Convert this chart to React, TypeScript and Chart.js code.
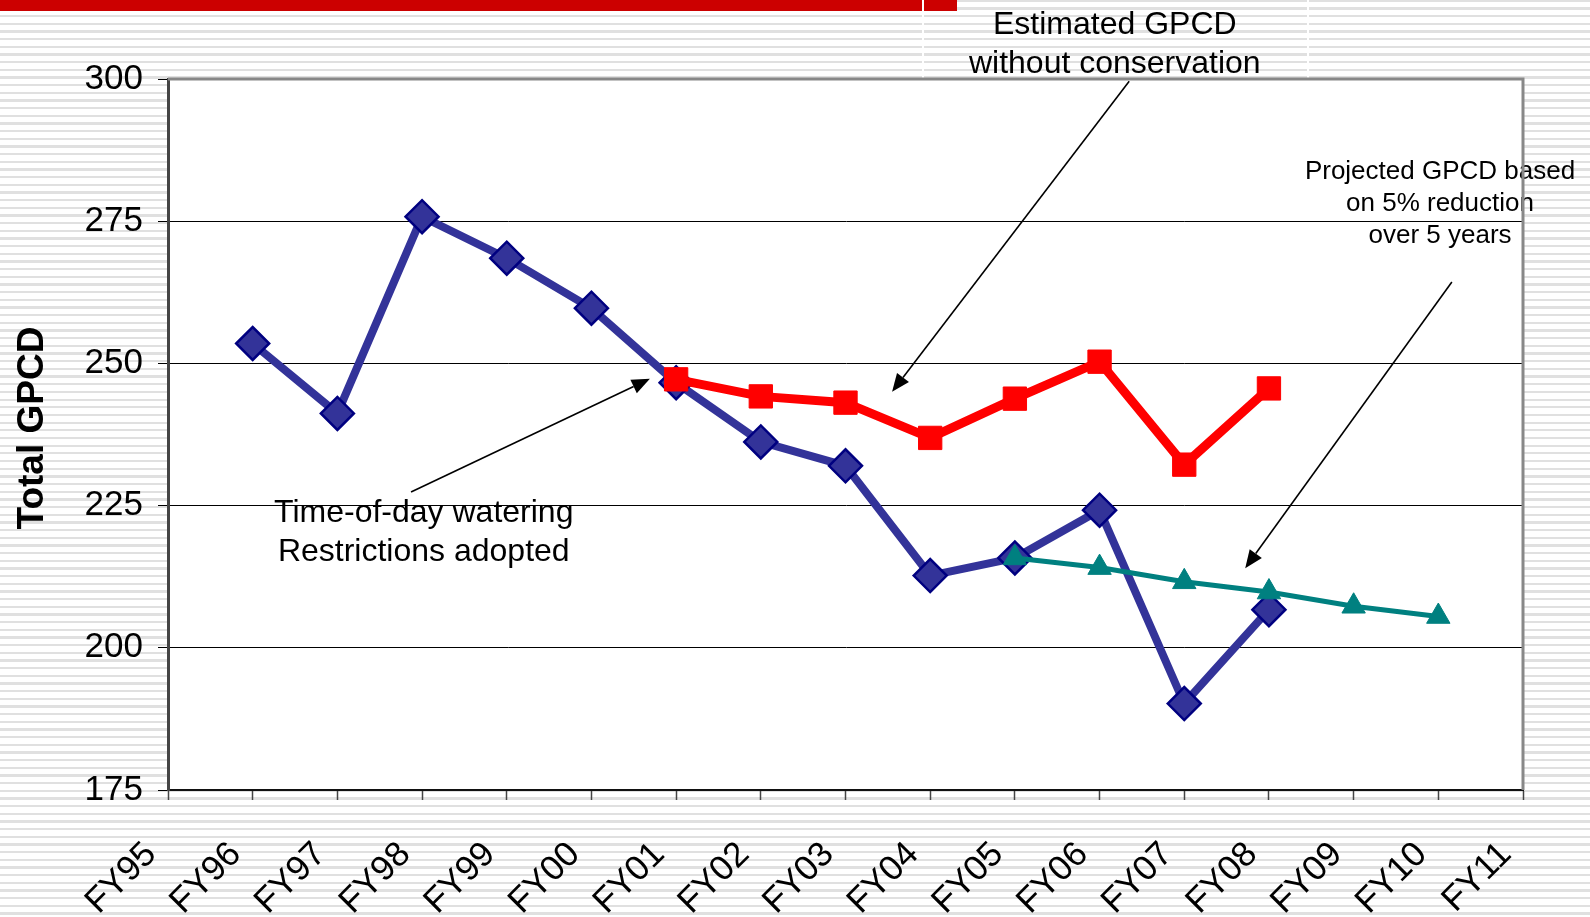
import React, { useEffect, useRef } from 'react';
import { Chart, registerables } from 'chart.js';

Chart.register(...registerables);

// ---- data ----
const categories = ['FY95', 'FY96', 'FY97', 'FY98', 'FY99', 'FY00', 'FY01', 'FY02', 'FY03', 'FY04', 'FY05', 'FY06', 'FY07', 'FY08', 'FY09', 'FY10', 'FY11'];
const actualGpcd = [null, 253.5, 241.2, 275.8, 268.5, 259.7, 246.6, 236.2, 232.0, 212.7, 215.8, 224.2, 190.2, 206.7, null, null, null];
const estimatedGpcd = [null, null, null, null, null, null, 247.2, 244.2, 243.1, 236.9, 243.8, 250.3, 232.2, 245.6, null, null, null];
const projectedGpcd = [null, null, null, null, null, null, null, null, null, null, 215.8, 214.1, 211.6, 209.8, 207.3, 205.5, null];
const yMin = 175;
const yMax = 300;
const yStep = 25;
const yTitle = 'Total GPCD';

const FONT = 'Arial, "Liberation Sans", Helvetica, sans-serif';

// annotation texts, anchored in data space: [category index, value]
const notes = [
  { lines: ['Estimated GPCD', 'without conservation'], at: [11.18, 309.5], gap: 39, size: 32 },
  { lines: ['Time-of-day watering', 'Restrictions adopted'], at: [3.02, 223.7], gap: 39, size: 32 },
  { lines: ['Projected GPCD based', 'on 5% reduction', 'over 5 years'], at: [15.02, 283.6], gap: 32, size: 26 },
];
const arrows = [
  { from: [11.35, 299.6], to: [8.55, 245.0] },
  { from: [2.87, 227.4], to: [5.69, 247.3] },
  { from: [15.16, 264.3], to: [12.72, 214.0] },
];

const decor = {
  id: 'decor',
  beforeDraw(chart: any) {
    const { ctx, chartArea: a } = chart;
    ctx.save();
    ctx.fillStyle = '#ffffff';
    ctx.fillRect(a.left, a.top, a.right - a.left, a.bottom - a.top);
    ctx.restore();
  },
  afterDatasetsDraw(chart: any) {
    const { ctx, chartArea: a } = chart;
    const xs = chart.scales.x;
    const ys = chart.scales.y;
    const px = (i: number) => xs.getPixelForValue(i);
    const py = (v: number) => ys.getPixelForValue(v);
    ctx.save();
    // arrows
    ctx.strokeStyle = '#000';
    ctx.fillStyle = '#000';
    ctx.lineWidth = 1.6;
    for (const ar of arrows) {
      const x1 = px(ar.from[0]), y1 = py(ar.from[1]);
      const x2 = px(ar.to[0]), y2 = py(ar.to[1]);
      const ang = Math.atan2(y2 - y1, x2 - x1);
      const hl = 18, hw = 7.5;
      const bx = x2 - Math.cos(ang) * hl, by = y2 - Math.sin(ang) * hl;
      ctx.beginPath();
      ctx.moveTo(x1, y1);
      ctx.lineTo(bx, by);
      ctx.stroke();
      ctx.beginPath();
      ctx.moveTo(x2, y2);
      ctx.lineTo(bx + Math.sin(ang) * hw, by - Math.cos(ang) * hw);
      ctx.lineTo(bx - Math.sin(ang) * hw, by + Math.cos(ang) * hw);
      ctx.closePath();
      ctx.fill();
    }
    // notes
    ctx.textAlign = 'center';
    ctx.textBaseline = 'middle';
    for (const n of notes) {
      ctx.font = `${n.size}px ${FONT}`;
      const x = px(n.at[0]);
      const y0 = py(n.at[1]);
      n.lines.forEach((t, k) => ctx.fillText(t, x, y0 + k * n.gap));
    }
    // top and right frame
    ctx.strokeStyle = '#888888';
    ctx.lineWidth = 3;
    ctx.beginPath();
    ctx.moveTo(a.left, a.top);
    ctx.lineTo(a.right, a.top);
    ctx.lineTo(a.right, a.bottom);
    ctx.stroke();
    // y axis title
    ctx.font = `bold 37px ${FONT}`;
    ctx.textAlign = 'center';
    ctx.textBaseline = 'alphabetic';
    ctx.translate(43, 428);
    ctx.rotate(-Math.PI / 2);
    ctx.fillText(yTitle, 0, 0);
    ctx.restore();
  },
};

export default function App() {
  const ref = useRef<HTMLCanvasElement>(null);
  useEffect(() => {
    const canvas = ref.current as HTMLCanvasElement;
    const chart = new Chart(canvas, {
      type: 'line',
      data: {
        labels: categories,
        datasets: [
          {
            label: 'Projected GPCD',
            data: projectedGpcd,
            borderColor: '#008080',
            backgroundColor: '#008080',
            borderWidth: 5,
            pointStyle: 'triangle',
            pointRadius: 13.5,
            pointBackgroundColor: '#008080',
            pointBorderColor: '#008080',
            pointBorderWidth: 1,
            tension: 0,
          },
          {
            label: 'Estimated GPCD',
            data: estimatedGpcd,
            borderColor: '#FF0000',
            backgroundColor: '#FF0000',
            borderWidth: 9,
            pointStyle: 'rect',
            pointRadius: 16.5,
            pointBackgroundColor: '#FF0000',
            pointBorderColor: '#FF0000',
            pointBorderWidth: 1,
            tension: 0,
          },
          {
            label: 'Total GPCD',
            data: actualGpcd,
            borderColor: '#333399',
            backgroundColor: '#333399',
            borderWidth: 8,
            pointStyle: 'rectRot',
            pointRadius: 16.5,
            pointBackgroundColor: '#333399',
            pointBorderColor: '#000080',
            pointBorderWidth: 2.5,
            tension: 0,
          },
        ],
      } as any,
      options: {
        responsive: false,
        animation: false,
        devicePixelRatio: 1,
        events: [],
        layout: { padding: { top: 79, right: 67, bottom: 0, left: 0 } },
        plugins: { legend: { display: false }, tooltip: { enabled: false }, title: { display: false } },
        scales: {
          x: {
            type: 'category',
            offset: false,
            grid: { display: true, drawOnChartArea: false, drawTicks: true, tickLength: 10, tickColor: '#444', tickWidth: 1.5 },
            border: { display: true, color: '#111', width: 2 },
            ticks: {
              autoSkip: false,
              minRotation: 45,
              maxRotation: 45,
              padding: 34,
              labelOffset: -17,
              color: '#000',
              font: { family: FONT, size: 35 },
            },
            afterFit: (s: any) => { s.height = 127; },
          },
          y: {
            min: yMin,
            max: yMax,
            ticks: { stepSize: yStep, padding: 15, color: '#000', font: { family: FONT, size: 35 } },
            grid: {
              color: (c: any) => (c.tick && c.tick.value === yMax ? 'rgba(0,0,0,0)' : '#000'),
              lineWidth: 1,
              tickLength: 10,
              tickColor: '#000',
              tickWidth: 1,
            },
            border: { display: true, color: '#444', width: 3 },
            afterFit: (s: any) => { s.width = 168; },
          },
        },
      } as any,
      plugins: [decor],
    });
    return () => chart.destroy();
  }, []);

  const stripes =
    'repeating-linear-gradient(180deg, #e0e0e0 0px, #e0e0e0 1.96px, #ffffff 1.96px, #ffffff 7.33px, #e0e0e0 7.33px, #e0e0e0 7.67px)';

  return (
    <div style={{ position: 'fixed', left: 0, top: 0, width: 1590, height: 917, background: stripes, overflow: 'hidden' }}>
      <div style={{ position: 'absolute', left: 0, top: 0, width: 957, height: 11, background: '#CC0000' }} />
      <div style={{ position: 'absolute', left: 922, top: 0, width: 2, height: 79, background: '#ffffff' }} />
      <div style={{ position: 'absolute', left: 1307, top: 0, width: 2, height: 79, background: '#ffffff' }} />
      <canvas ref={ref} width={1590} height={917} style={{ position: 'absolute', left: 0, top: 0, width: 1590, height: 917 }} />
    </div>
  );
}
